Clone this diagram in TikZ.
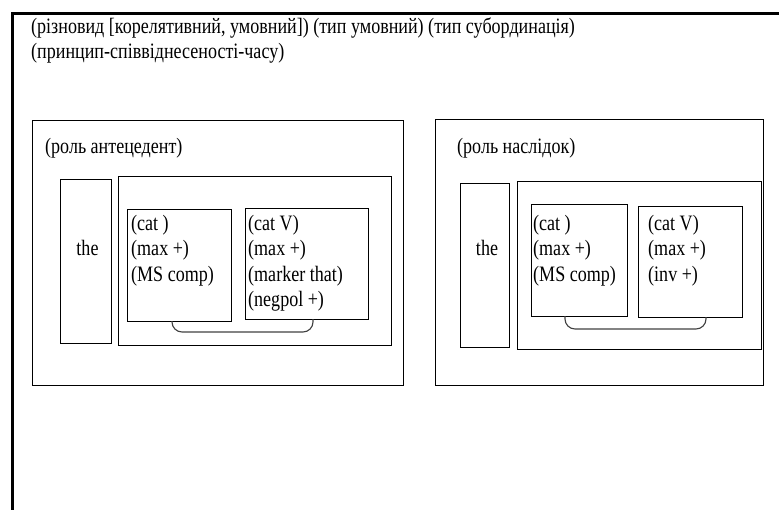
\documentclass[tikz,border=0pt]{standalone}
\usepackage{fontspec}
\setmainfont{Liberation Serif}[FakeStretch=0.82]
\begin{document}
\begin{tikzpicture}[x=1pt,y=-1pt,
  box/.style={draw, line width=1.1pt, inner sep=0, anchor=north west},
  txt/.style={inner sep=0, anchor=base west, font=\fontsize{22}{25.5}\selectfont},
  btxt/.style={inner sep=0, anchor=north west, align=left, font=\fontsize{22}{25.5}\selectfont},
  ctxt/.style={inner sep=0, anchor=base, font=\fontsize{22}{25.5}\selectfont},
  conn/.style={draw=black!75, line width=1.1pt, rounded corners=10pt},
  frame/.style={line width=3pt}]
\useasboundingbox (0,0) rectangle (779,509);
% page frame
\coordinate (f1) at (781,13.5);
\coordinate (f2) at (12,13.5);
\coordinate (f3) at (12,511);
\draw[frame] (f1) -- (f2) -- (f3);
% header text
\node[txt] (h1) at (31,33) {(різновид [корелятивний, умовний]) (тип умовний) (тип субординація)};
\node[txt] (h2) at (31,58) {(принцип-співвіднесеності-часу)};
% left group
\node[box, minimum width=371pt, minimum height=265pt] (LA) at (32,120) {};
\node[txt] (LAt) at (45,153) {(роль антецедент)};
\node[box, minimum width=51pt, minimum height=164pt] (Lthe) at (60,179) {};
\node[ctxt] (Lthet) at (87.5,255) {the};
\node[box, minimum width=273pt, minimum height=169pt] (Lin) at (118,176) {};
\node[box, minimum width=104pt, minimum height=112pt] (Lb1) at (127,209) {};
\node[box, minimum width=123pt, minimum height=111pt] (Lb2) at (245,208) {};
\node[btxt] (Lb1t) at (131,215) {(cat )\\(max +)\\(MS comp)};
\node[btxt] (Lb2t) at (248,215) {(cat V)\\(max +)\\(marker that)\\(negpol +)};
\coordinate (lc1) at (172,321);
\coordinate (lc2) at (313,319);
\draw[conn] (lc1) -- (172,332) -- (313,332) -- (lc2);
% right group
\node[box, minimum width=328pt, minimum height=266pt] (RA) at (435,119) {};
\node[txt] (RAt) at (457,153) {(роль наслідок)};
\node[box, minimum width=49pt, minimum height=164pt] (Rthe) at (460,183) {};
\node[ctxt] (Rthet) at (487,255) {the};
\node[box, minimum width=244pt, minimum height=168pt] (Rin) at (517,181) {};
\node[box, minimum width=96pt, minimum height=112pt] (Rb1) at (531,204) {};
\node[box, minimum width=104pt, minimum height=111pt] (Rb2) at (638,206) {};
\node[btxt] (Rb1t) at (533,215) {(cat )\\(max +)\\(MS comp)};
\node[btxt] (Rb2t) at (648,215) {(cat V)\\(max +)\\(inv +)};
\coordinate (rc1) at (565,316);
\coordinate (rc2) at (706,317);
\draw[conn] (rc1) -- (565,329) -- (706,329) -- (rc2);
\end{tikzpicture}
\end{document}
